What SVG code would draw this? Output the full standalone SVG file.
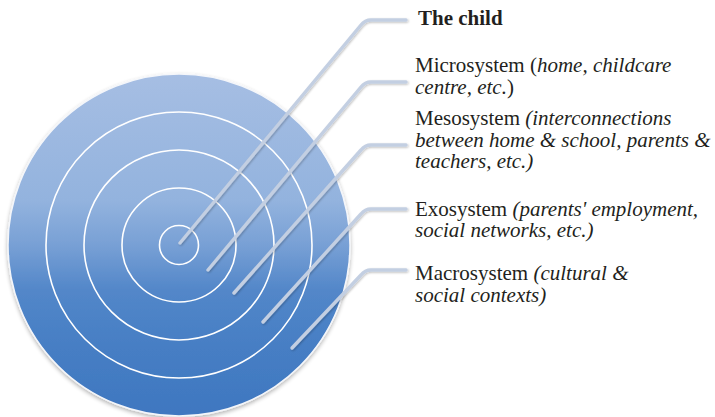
<svg xmlns="http://www.w3.org/2000/svg" width="715" height="417" viewBox="0 0 715 417">
  <defs>
    <linearGradient id="disc" gradientUnits="userSpaceOnUse" x1="0" y1="74" x2="0" y2="416">
      <stop offset="0" stop-color="#a6bee3"/>
      <stop offset="0.37" stop-color="#93b3de"/>
      <stop offset="0.5" stop-color="#78a0d5"/>
      <stop offset="0.63" stop-color="#5387c9"/>
      <stop offset="0.8" stop-color="#467ec4"/>
      <stop offset="1" stop-color="#3f77c0"/>
    </linearGradient>
    <filter id="soft" x="-10%" y="-10%" width="120%" height="120%">
      <feGaussianBlur in="SourceAlpha" stdDeviation="2"/>
      <feOffset dx="0" dy="1.5" result="b"/>
      <feComponentTransfer><feFuncA type="linear" slope="0.3"/></feComponentTransfer>
      <feMerge><feMergeNode/><feMergeNode in="SourceGraphic"/></feMerge>
    </filter>
    <filter id="lineShadow" x="-10%" y="-10%" width="120%" height="120%">
      <feGaussianBlur in="SourceAlpha" stdDeviation="0.8"/>
      <feOffset dx="0.8" dy="1" result="b"/>
      <feComponentTransfer><feFuncA type="linear" slope="0.25"/></feComponentTransfer>
      <feMerge><feMergeNode/><feMergeNode in="SourceGraphic"/></feMerge>
    </filter>
  </defs>
  <style>
    .ring { fill: none; stroke: #ffffff; stroke-width: 1.6; }
    .lead { fill: none; stroke: #c3cfe2; stroke-width: 3.4; stroke-linecap: round; stroke-linejoin: round; }
    .lbl { font-family: "Liberation Serif", "Times New Roman", serif; font-size: 21px; fill: #231f20; }
    .it { font-style: italic; }
    .b { font-weight: bold; }
  </style>

  <!-- concentric target of nested systems -->
  <g id="target">
    <circle cx="179" cy="245" r="171" fill="url(#disc)" stroke="#f4f6fa" stroke-width="1.5" filter="url(#soft)"/>
    <circle class="ring" cx="179" cy="245" r="133"/>
    <circle class="ring" cx="179" cy="245" r="95"/>
    <circle class="ring" cx="179" cy="245" r="57"/>
    <circle class="ring" cx="179" cy="245" r="19.5"/>
  </g>

  <!-- leader lines from each ring to its label -->
  <g id="connectors" filter="url(#lineShadow)">
    <path class="lead" d="M180,243 L361,25 Q365,20 371,20 L406,20"/>
    <path class="lead" d="M208,270 L361,87 Q365,82 371,82 L406,82"/>
    <path class="lead" d="M234,293 L361,150 Q365,145 371,145 L406,145"/>
    <path class="lead" d="M263,322 L361,214 Q365,209 371,209 L406,209"/>
    <path class="lead" d="M292,348 L361,275 Q365,270 371,270 L406,270"/>
  </g>

  <g id="child">
    <text class="lbl b" x="418" y="25">The child</text>
  </g>
  <g id="microsystem">
    <text class="lbl" x="415" y="72">Microsystem (<tspan class="it">home, childcare</tspan></text>
    <text class="lbl" x="415" y="93.5"><tspan class="it">centre, etc.</tspan>)</text>
  </g>
  <g id="mesosystem">
    <text class="lbl" x="415" y="125">Mesosystem <tspan class="it">(interconnections</tspan></text>
    <text class="lbl it" x="415" y="146.5">between home &amp; school, parents &amp;</text>
    <text class="lbl it" x="415" y="167.5">teachers, etc.)</text>
  </g>
  <g id="exosystem">
    <text class="lbl" x="415" y="215.5">Exosystem <tspan class="it">(parents' employment,</tspan></text>
    <text class="lbl it" x="415" y="237">social networks, etc.)</text>
  </g>
  <g id="macrosystem">
    <text class="lbl" x="415" y="280">Macrosystem <tspan class="it">(cultural &amp;</tspan></text>
    <text class="lbl it" x="415" y="302">social contexts)</text>
  </g>
</svg>
